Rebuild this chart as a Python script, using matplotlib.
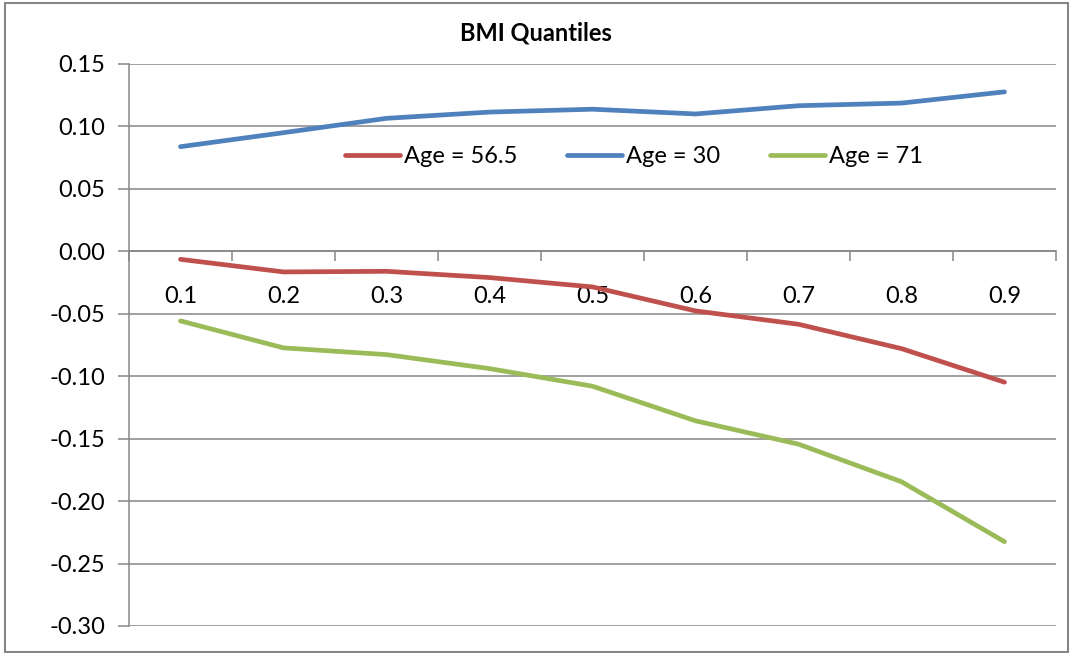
import matplotlib
matplotlib.use("Agg")
import matplotlib.pyplot as plt
from matplotlib.patches import Rectangle

plt.rcParams['font.family'] = ['Lato', 'DejaVu Sans']

quantiles = ["0.1", "0.2", "0.3", "0.4", "0.5", "0.6", "0.7", "0.8", "0.9"]
age_56_5 = [-0.0064, -0.0165, -0.0160, -0.0210, -0.0285, -0.0477, -0.0584, -0.0779, -0.1048]
age_30 = [0.0838, 0.0950, 0.1065, 0.1115, 0.1138, 0.1100, 0.1166, 0.1187, 0.1277]
age_71 = [-0.0557, -0.0773, -0.0827, -0.0939, -0.1080, -0.1357, -0.1544, -0.1845, -0.2325]
series = [("Age = 56.5", age_56_5, "#C0504D"),
          ("Age = 30", age_30, "#4F81BD"),
          ("Age = 71", age_71, "#9BBB59")]
yticks = [0.15, 0.10, 0.05, 0.00, -0.05, -0.10, -0.15, -0.20, -0.25, -0.30]

W, H = 1072, 653
fig = plt.figure(figsize=(W / 100, H / 100), dpi=100)
ax = fig.add_axes([129 / W, 1 - 626 / H, (1056 - 129) / W, (626 - 64) / H])

x = list(range(len(quantiles)))
for name, vals, col in series:
    ax.plot(x, vals, color=col, lw=3.4, solid_capstyle='round',
            solid_joinstyle='round', label=name)

grey = "#868686"
fs = 17
ax.set_xlim(-0.5, len(quantiles) - 0.5)
ax.set_ylim(-0.30, 0.15)
ax.set_yticks(yticks)
ax.set_yticklabels([f"{v:.2f}" for v in yticks])
ax.yaxis.grid(True, color=grey, lw=1.1)
ax.set_axisbelow(True)

ax.set_xticks(x)
ax.set_xticklabels(quantiles)
ax.set_xticks([i - 0.5 for i in range(len(quantiles) + 1)], minor=True)
ax.tick_params(axis='x', which='major', length=0, pad=25, labelsize=fs)
ax.tick_params(axis='x', which='minor', length=7, direction='out', color=grey, width=1.1)
ax.tick_params(axis='y', length=8, direction='out', color=grey, width=1.1, pad=9, labelsize=fs)

for s in ['top', 'right']:
    ax.spines[s].set_visible(False)
ax.spines['bottom'].set_position(('data', 0))
ax.spines['bottom'].set_color(grey)
ax.spines['bottom'].set_linewidth(1.1)
ax.spines['left'].set_color(grey)
ax.spines['left'].set_linewidth(1.1)

leg = ax.legend(loc='center left', bbox_to_anchor=((345 - 129) / 927, 0.835),
                ncol=3, frameon=False, fontsize=fs, handlelength=2.33,
                handletextpad=0.17, columnspacing=2.1, borderpad=0, borderaxespad=0)

fig.text(536 / W, 1 - 33 / H, "BMI Quantiles", ha='center', va='center',
         fontsize=17, fontweight='bold')

fig.patches.append(Rectangle((5 / W, 1 - 652 / H), (1068 - 5) / W, (652 - 3) / H,
                             transform=fig.transFigure, fill=False,
                             edgecolor=grey, lw=1.5))

fig.savefig("out.png", dpi=100)
